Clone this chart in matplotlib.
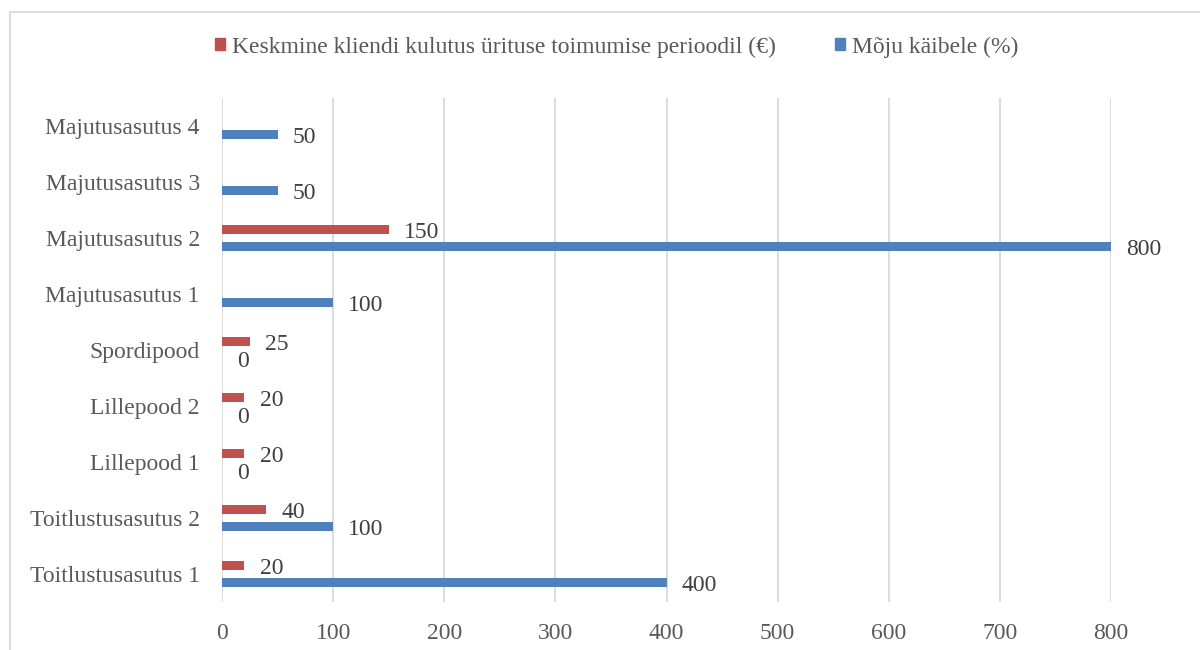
import numpy as np
import matplotlib
matplotlib.use("Agg")
import matplotlib.pyplot as plt
from matplotlib.patches import Patch, Rectangle

categories = ["Toitlustusasutus 1", "Toitlustusasutus 2", "Lillepood 1", "Lillepood 2",
              "Spordipood", "Majutusasutus 1", "Majutusasutus 2", "Majutusasutus 3",
              "Majutusasutus 4"]
spend = [20, 40, 20, 20, 25, np.nan, 150, np.nan, np.nan]
impact = [400, 100, 0, 0, 0, 100, 800, 50, 50]
series_names = ["Keskmine kliendi kulutus ürituse toimumise perioodil (€)", "Mõju käibele (%)"]
xticks = [0, 100, 200, 300, 400, 500, 600, 700, 800]

RED = "#C0504D"
BLUE = "#4F81BD"
TXT = "#595959"
LBL = "#404040"
GRID = "#D9D9D9"

plt.rcParams["font.family"] = ["Liberation Serif", "DejaVu Serif"]

fig = plt.figure(figsize=(12, 6.5), dpi=100)
ax = fig.add_axes([222/1200, 1-602/650, (1111-222)/1200, (602-98)/650])

y = np.arange(len(categories))
off = 0.148
h = 0.165
ax.barh(y + off, spend, height=h, color=RED, zorder=3)
ax.barh(y - off, impact, height=h, color=BLUE, zorder=3)

fs = 17
for yi, v in zip(y, spend):
    if not np.isnan(v):
        ax.annotate(f"{int(v)}", (v, yi + off), xytext=(11, -2), textcoords="offset points",
                    ha="left", va="center", fontsize=fs, color=LBL)
for yi, v in zip(y, impact):
    ax.annotate(f"{int(v)}", (v, yi - off), xytext=(11, -2), textcoords="offset points",
                ha="left", va="center", fontsize=fs, color=LBL)

ax.set_xlim(0, 800)
ax.set_ylim(-0.5, len(categories) - 0.5)
ax.set_xticks(xticks)
ax.set_xticklabels([str(t) for t in xticks])
ax.set_yticks(y)
ax.set_yticklabels(categories)
ax.tick_params(axis="both", length=0, labelsize=fs, colors=TXT)
ax.tick_params(axis="y", pad=16)
ax.tick_params(axis="x", pad=15)
ax.grid(axis="x", color=GRID, linewidth=1.3, zorder=0)
for s in ax.spines.values():
    s.set_visible(False)

handles = [Patch(color=RED), Patch(color=BLUE)]
fig.legend(handles, series_names, loc="center", bbox_to_anchor=(617/1200, 1-47/650),
           ncol=2, frameon=False, fontsize=fs, labelcolor=TXT,
           handlelength=0.42, handleheight=0.42, handletextpad=0.3, columnspacing=2.5)

fig.add_artist(Rectangle((10/1200, -0.1), 1.2, 1-12/650+0.1, transform=fig.transFigure,
                         fill=False, edgecolor=GRID, linewidth=1.3))

fig.savefig("out.png", dpi=100)
